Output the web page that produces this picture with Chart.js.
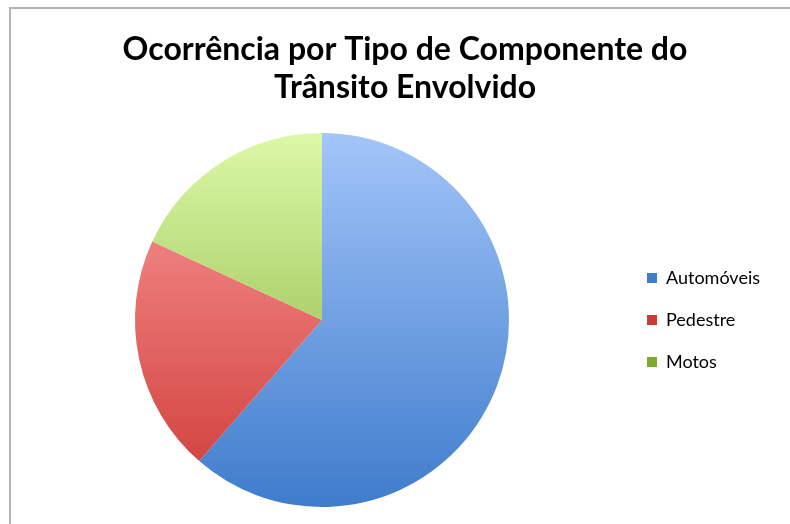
<!DOCTYPE html>
<html>
<head>
<meta charset="utf-8">
<script src="https://cdn.jsdelivr.net/npm/chart.js@4.4.0/dist/chart.umd.min.js"></script>
<style>
    html, body { margin: 0; padding: 0; background: #fff; }
    #wrap { position: relative; width: 790px; height: 524px; }
    #frame {
        position: absolute; left: 9px; top: 7px; right: 0; bottom: 0;
        border-left: 2px solid #b4b4b4; border-top: 2px solid #b4b4b4;
    }
    canvas { position: absolute; left: 0; top: 0; }
</style>
</head>
<body>
<div id="wrap">
    <div id="frame"></div>
    <canvas id="pie" width="790" height="524"></canvas>
</div>
<script>
const titleLines = ['Ocorrência por Tipo de Componente do', 'Trânsito Envolvido'];
const categories = ['Automóveis', 'Pedestre', 'Motos'];
const values = [61.4, 20.5, 18.1];
const topColors = ['#a3c5f9', '#fc9c9b', '#dcf9a8'];
const bottomColors = ['#3f7ccc', '#cd3a36', '#7faa30'];

// title drawn centred on the page rather than on the plot area
const pageTitle = {
    id: 'pageTitle',
    afterDraw(chart) {
        const ctx = chart.ctx;
        ctx.save();
        ctx.fillStyle = '#000';
        ctx.font = 'bold 32px Lato';
        ctx.textAlign = 'center';
        ctx.textBaseline = 'middle';
        titleLines.forEach((line, i) => ctx.fillText(line, 405, 50 + i * 38));
        ctx.restore();
    }
};

function sliceFill(context) {
    const i = context.dataIndex;
    const area = context.chart.chartArea;
    if (!area) return topColors[i];
    const g = context.chart.ctx.createLinearGradient(0, area.top, 0, area.bottom);
    g.addColorStop(0, topColors[i]);
    g.addColorStop(1, bottomColors[i]);
    return g;
}

new Chart(document.getElementById('pie'), {
    type: 'pie',
    data: {
        labels: categories,
        datasets: [{
            data: values,
            backgroundColor: sliceFill,
            borderWidth: 0
        }]
    },
    options: {
        responsive: false,
        animation: false,
        layout: { padding: { top: 133, bottom: 17, left: 21, right: 20 } },
        plugins: {
            title: { display: false },
            tooltip: { enabled: false },
            legend: {
                position: 'right',
                labels: {
                    boxWidth: 10,
                    boxHeight: 10,
                    padding: 24,
                    color: '#000',
                    font: { family: 'Lato', size: 18 },
                    generateLabels(chart) {
                        return categories.map((c, i) => ({
                            text: c,
                            fillStyle: bottomColors[i],
                            strokeStyle: bottomColors[i],
                            lineWidth: 0,
                            index: i
                        }));
                    }
                }
            }
        }
    },
    plugins: [pageTitle]
});
</script>
</body>
</html>
